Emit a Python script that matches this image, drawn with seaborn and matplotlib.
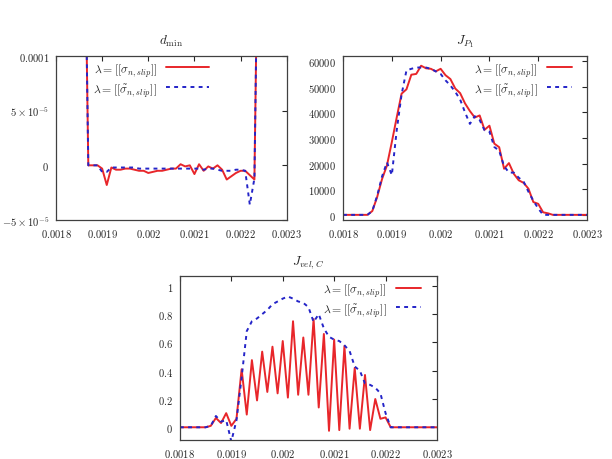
import numpy as np
import pandas as pd
import matplotlib
matplotlib.use("Agg")
import matplotlib.pyplot as plt
import seaborn as sns

# sample grid (time)
x = np.linspace(0.0018, 0.0023, 51)

# d_min, in units of 1e-5 (30 = off the top of the plot)
dmin_red = [30, 30, 30, 30, 30, 30, 30, 0, 0, 0,
            -0.3, -1.8, -0.2, -0.4, -0.4, -0.3, -0.3, -0.4, -0.5, -0.5,
            -0.7, -0.6, -0.5, -0.5, -0.4, -0.3, -0.3, 0.1, -0.1, 0.0,
            -0.8, 0.1, -0.5, -0.1, -0.3, 0.0, -0.4, -1.3, -1.0, -0.7,
            -0.5, -0.5, -0.9, -1.3, 30, 30, 30, 30, 30, 30, 30]
dmin_blue = [30, 30, 30, 30, 30, 30, 30, 0, 0, 0,
             -0.6, -0.6, -0.2, -0.2, -0.2, -0.2, -0.2, -0.2, -0.3, -0.3,
             -0.3, -0.3, -0.3, -0.3, -0.3, -0.3, -0.3, -0.3, -0.3, -0.3,
             -0.3, -0.3, -0.4, -0.3, -0.3, -0.4, -0.5, -0.5, -0.5, -0.4,
             -0.4, -0.5, -3.6, -1.2, 30, 30, 30, 30, 30, 30, 30]

# J_P1, in units of 1000
jp_red = [0, 0, 0, 0, 0, 0, 1.5, 7, 14, 19.3,
          28.4, 38, 47.3, 49, 54.7, 55, 58.2, 57.2, 57, 56,
          57, 54.5, 53, 49.3, 47.5, 43.5, 40.5, 38, 38.8, 33.2,
          34.8, 27.8, 26.4, 18, 20.2, 16, 13.5, 12.5, 10.2, 5,
          4.3, 1, 0.6, 0, 0, 0, 0, 0, 0, 0, 0]
jp_blue = [0, 0, 0, 0, 0, 0, 1.5, 7.5, 15, 20.5,
           15.5, 33, 47, 56.4, 57, 57.5, 57.5, 57.5, 57, 56,
           55, 52.5, 50.5, 48, 45, 40, 35.5, 38.5, 37, 33,
           32.5, 26.5, 25, 19, 16.5, 16.5, 14.5, 13, 9, 5.5,
           2.5, 0, 0, 0, 0, 0, 0, 0, 0, 0, 0]

# J_vel,C
jv_red = [0, 0, 0, 0, 0, 0, 0.01, 0.066, 0.03, 0.10,
          0.01, 0.06, 0.41, 0.09, 0.475, 0.19, 0.535, 0.25, 0.57, 0.24,
          0.61, 0.21, 0.75, 0.23, 0.635, 0.23, 0.765, 0.14, 0.66, -0.025,
          0.62, -0.02, 0.575, -0.01, 0.42, -0.01, 0.37, -0.02, 0.20, 0.06,
          0.07, 0.0, 0, 0, 0, 0, 0, 0, 0, 0, 0]
jv_blue = [0, 0, 0, 0, 0, 0, 0.01, 0.08, 0.04, 0.05,
           -0.1, 0.05, 0.35, 0.68, 0.75, 0.77, 0.80, 0.83, 0.87, 0.89,
           0.91, 0.925, 0.91, 0.89, 0.88, 0.85, 0.745, 0.80, 0.70, 0.64,
           0.62, 0.61, 0.58, 0.54, 0.43, 0.40, 0.31, 0.30, 0.28, 0.24,
           0.10, 0.0, 0, 0, 0, 0, 0, 0, 0, 0, 0]

xticks = [0.0018, 0.0019, 0.002, 0.0021, 0.0022, 0.0023]
xticklabels = ["$0.0018$", "$0.0019$", "$0.002$", "$0.0021$", "$0.0022$", "$0.0023$"]

lab_red = r"$\lambda = [[\sigma_{n,slip}]]$"
lab_blue = r"$\lambda = [[\tilde{\sigma}_{n,slip}]]$"
red = "#e8262a"
blue = "#2424c8"

sns.set_style("white")
plt.rcParams["mathtext.fontset"] = "cm"
plt.rcParams["font.family"] = ["DejaVu Serif"]

fig = plt.figure(figsize=(6.12, 4.6), dpi=100)
ax1 = fig.add_axes([0.0915, 0.5196, 0.377, 0.3565])
ax2 = fig.add_axes([0.5605, 0.5196, 0.3987, 0.3565])
ax3 = fig.add_axes([0.294, 0.0413, 0.42, 0.3565])


def draw(ax, yr, yb, title, ylim, yticks, yticklabels, legend_kw, pad):
    sns.lineplot(x=x, y=yr, ax=ax, color=red, lw=1.4, label=lab_red)
    sns.lineplot(x=x, y=yb, ax=ax, color=blue, lw=1.4, ls=(0, (2, 2.2)), label=lab_blue)
    ax.set_xlim(0.0018, 0.0023)
    ax.set_ylim(*ylim)
    ax.set_xticks(xticks)
    ax.set_xticklabels(xticklabels)
    ax.set_yticks(yticks)
    ax.set_yticklabels(yticklabels)
    ax.tick_params(direction="in", top=True, right=True, labelsize=7.6, length=3.5, pad=5)
    for s in ax.spines.values():
        s.set_color("#404040")
        s.set_linewidth(0.9)
    ax.set_title(title, fontsize=9.5, pad=pad)
    ax.legend(frameon=False, markerfirst=False, fontsize=8.5,
              labelspacing=0.25, borderaxespad=0.0, handletextpad=0.8, **legend_kw)


draw(ax1, np.array(dmin_red) * 1e-5, np.array(dmin_blue) * 1e-5, r"$d_{\min}$",
     (-5e-5, 1e-4), [-5e-5, 0, 5e-5, 1e-4],
     [r"$-5\times10^{-5}$", "$0$", r"$5\times10^{-5}$", "$0.0001$"],
     dict(loc="upper left", bbox_to_anchor=(0.14, 1.0), handlelength=3.6), 9)
draw(ax2, np.array(jp_red) * 1000, np.array(jp_blue) * 1000, r"$J_{P_1}$",
     (-2000, 62000), [0, 10000, 20000, 30000, 40000, 50000, 60000],
     ["$0$", "$10000$", "$20000$", "$30000$", "$40000$", "$50000$", "$60000$"],
     dict(loc="upper right", bbox_to_anchor=(0.958, 1.0), handlelength=2.1), 9)
draw(ax3, jv_red, jv_blue, r"$J_{vel,C}$",
     (-0.09, 1.07), [0, 0.2, 0.4, 0.6, 0.8, 1],
     ["$0$", "$0.2$", "$0.4$", "$0.6$", "$0.8$", "$1$"],
     dict(loc="upper right", bbox_to_anchor=(0.955, 1.0), handlelength=2.1), 9)

fig.savefig("out.png", dpi=100)
